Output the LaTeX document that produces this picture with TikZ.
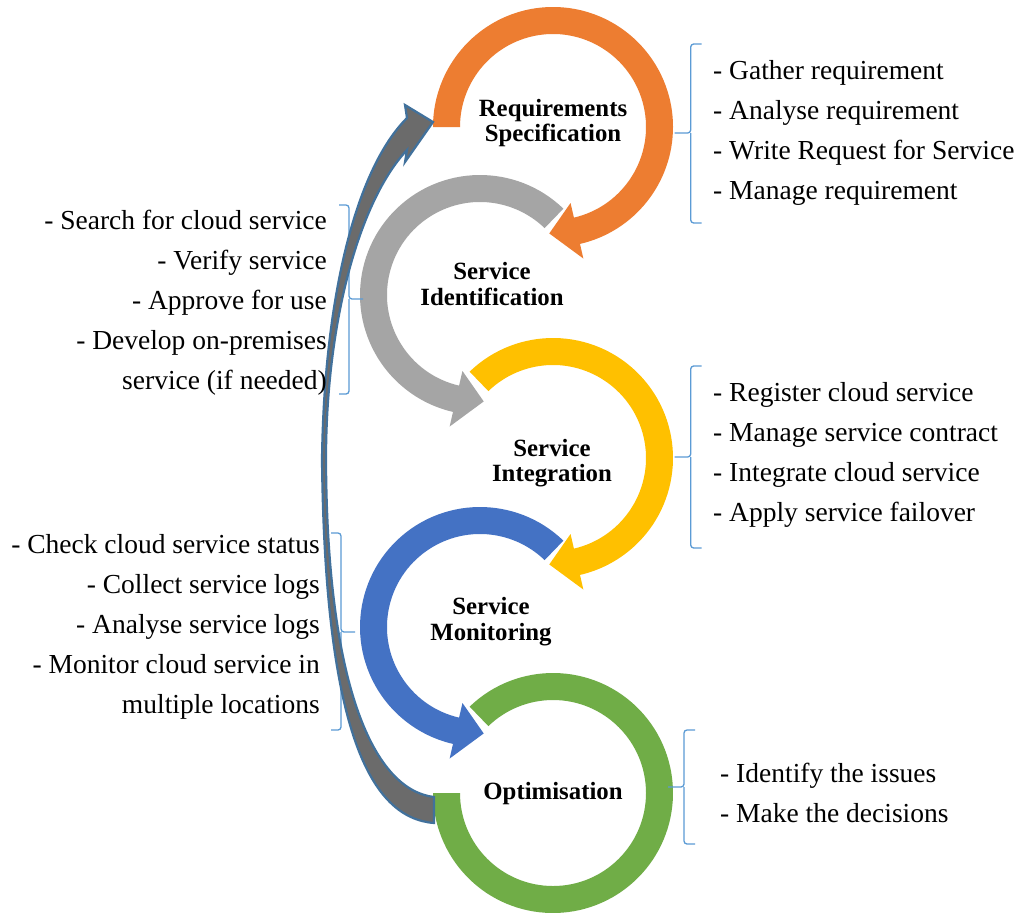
\documentclass[tikz,border=0pt]{standalone}
\usepackage{fontspec}
\setmainfont{Liberation Serif}
\usetikzlibrary{calc}
\definecolor{cOrange}{HTML}{ED7D31}
\definecolor{cGray}{HTML}{A5A5A5}
\definecolor{cYellow}{HTML}{FFC000}
\definecolor{cBlue}{HTML}{4472C4}
\definecolor{cGreen}{HTML}{70AD47}
\definecolor{cDark}{HTML}{6B6B6B}
\definecolor{cOutline}{HTML}{41719C}
\definecolor{cBrace}{HTML}{5B9BD5}
\newcommand\ringarrow[5]{% center, start, end, tip, colour
  \fill[#5] ($(#1)+(#2:120)$) arc[start angle=#2,end angle=#3,radius=120]
    -- ($(#1)+(#3:135)$) -- ($(#1)+(#4:106.5)$) -- ($(#1)+(#3:78)$)
    -- ($(#1)+(#3:93)$) arc[start angle=#3,end angle=#2,radius=93] -- cycle;}
\newcommand\braceTipLeft[4]{% x, top, mid, bottom
  \draw[bracestyle] ({#1+11},#2) -- (#1,#2) -- (#1,#3) -- ({#1-16},#3)
    (#1,#3) -- (#1,#4) -- ({#1+11},#4);}
\newcommand\braceTipRight[4]{% x, top, mid, bottom
  \draw[bracestyle] ({#1-10},#2) -- (#1,#2) -- (#1,#3) -- ({#1+14},#3)
    (#1,#3) -- (#1,#4) -- ({#1-10},#4);}
\begin{document}
\begin{tikzpicture}[x=1pt,y=-1pt,
  bracestyle/.style={draw=cBrace,line width=1.3pt,rounded corners=3pt},
  listtext/.style={font=\fontsize{27.5}{40}\selectfont,inner sep=0pt},
  ringlabel/.style={font=\fontsize{24.8}{25.5}\selectfont\bfseries,inner sep=0pt,align=center},
  bigarrow/.style={fill=cDark,draw=cOutline,line width=2.2pt,line join=miter}]
\useasboundingbox[fill=white] (0,0) rectangle (1023,914);
% ring centres
\coordinate (cReq) at (553,127);
\coordinate (cIde) at (480,295);
\coordinate (cInt) at (553,458);
\coordinate (cMon) at (480,627);
\coordinate (cOpt) at (553,793);
% rings
\ringarrow{cReq}{-180}{77}{92}{cOrange}
\ringarrow{cIde}{-46}{-257}{-272}{cGray}
\ringarrow{cInt}{-134}{77}{92}{cYellow}
\ringarrow{cMon}{-46}{-257}{-272}{cBlue}
\fill[cGreen] ($(cOpt)+(-134:120)$) arc[start angle=-134,end angle=180,radius=120]
  -- ($(cOpt)+(180:93)$) arc[start angle=180,end angle=-134,radius=93] -- cycle;
% braces
\braceTipLeft{690.7}{44}{133}{223}
\braceTipRight{349}{205}{299}{394}
\braceTipLeft{690.7}{366}{457}{548}
\braceTipRight{341}{533}{632}{730}
\braceTipLeft{684}{730}{787}{844}
% big return arrow
\coordinate (arrStart) at (434,823);
\coordinate (arrTip) at (433,122);
\draw[bigarrow] (arrStart) .. controls (370,818) and (325,730) .. (322,460)
  .. controls (324,300) and (355,170) .. (407,118) -- (405,105) -- (arrTip)
  -- (405,162) -- (407,150) .. controls (360,200) and (326,320) .. (326,460)
  .. controls (327,690) and (375,790) .. (434,797) -- cycle;
% ring labels
\node[ringlabel] (lReq) at (553,124) {\strut Requirements\\Specification\strut};
\node[ringlabel] (lIde) at (492,287.5) {\strut Service\\Identification\strut};
\node[ringlabel] (lInt) at (552,464) {\strut Service\\Integration\strut};
\node[ringlabel] (lMon) at (491,622.5) {\strut Service\\Monitoring\strut};
\node[ringlabel] (lOpt) at (553,794) {\strut Optimisation\strut};
% lists
\node[listtext,align=left,anchor=west] (tReq) at (713,131)
  {\strut- Gather requirement\\\strut- Analyse requirement\\\strut- Write Request for Service\\\strut- Manage requirement\strut};
\node[listtext,align=right,anchor=east] (tIde) at (327,301)
  {\strut- Search for cloud service\\\strut- Verify service\\\strut- Approve for use\\\strut- Develop on-premises\\\strut service (if needed)\strut};
\node[listtext,align=left,anchor=west] (tInt) at (713,453.5)
  {\strut- Register cloud service\\\strut- Manage service contract\\\strut- Integrate cloud service\\\strut- Apply service failover\strut};
\node[listtext,align=right,anchor=east] (tMon) at (320,625.6)
  {\strut- Check cloud service status\\\strut- Collect service logs\\\strut- Analyse service logs\\\strut- Monitor cloud service in\\\strut multiple locations\strut};
\node[listtext,align=left,anchor=west] (tOpt) at (720,794)
  {\strut- Identify the issues\\\strut- Make the decisions\strut};
\end{tikzpicture}
\end{document}
